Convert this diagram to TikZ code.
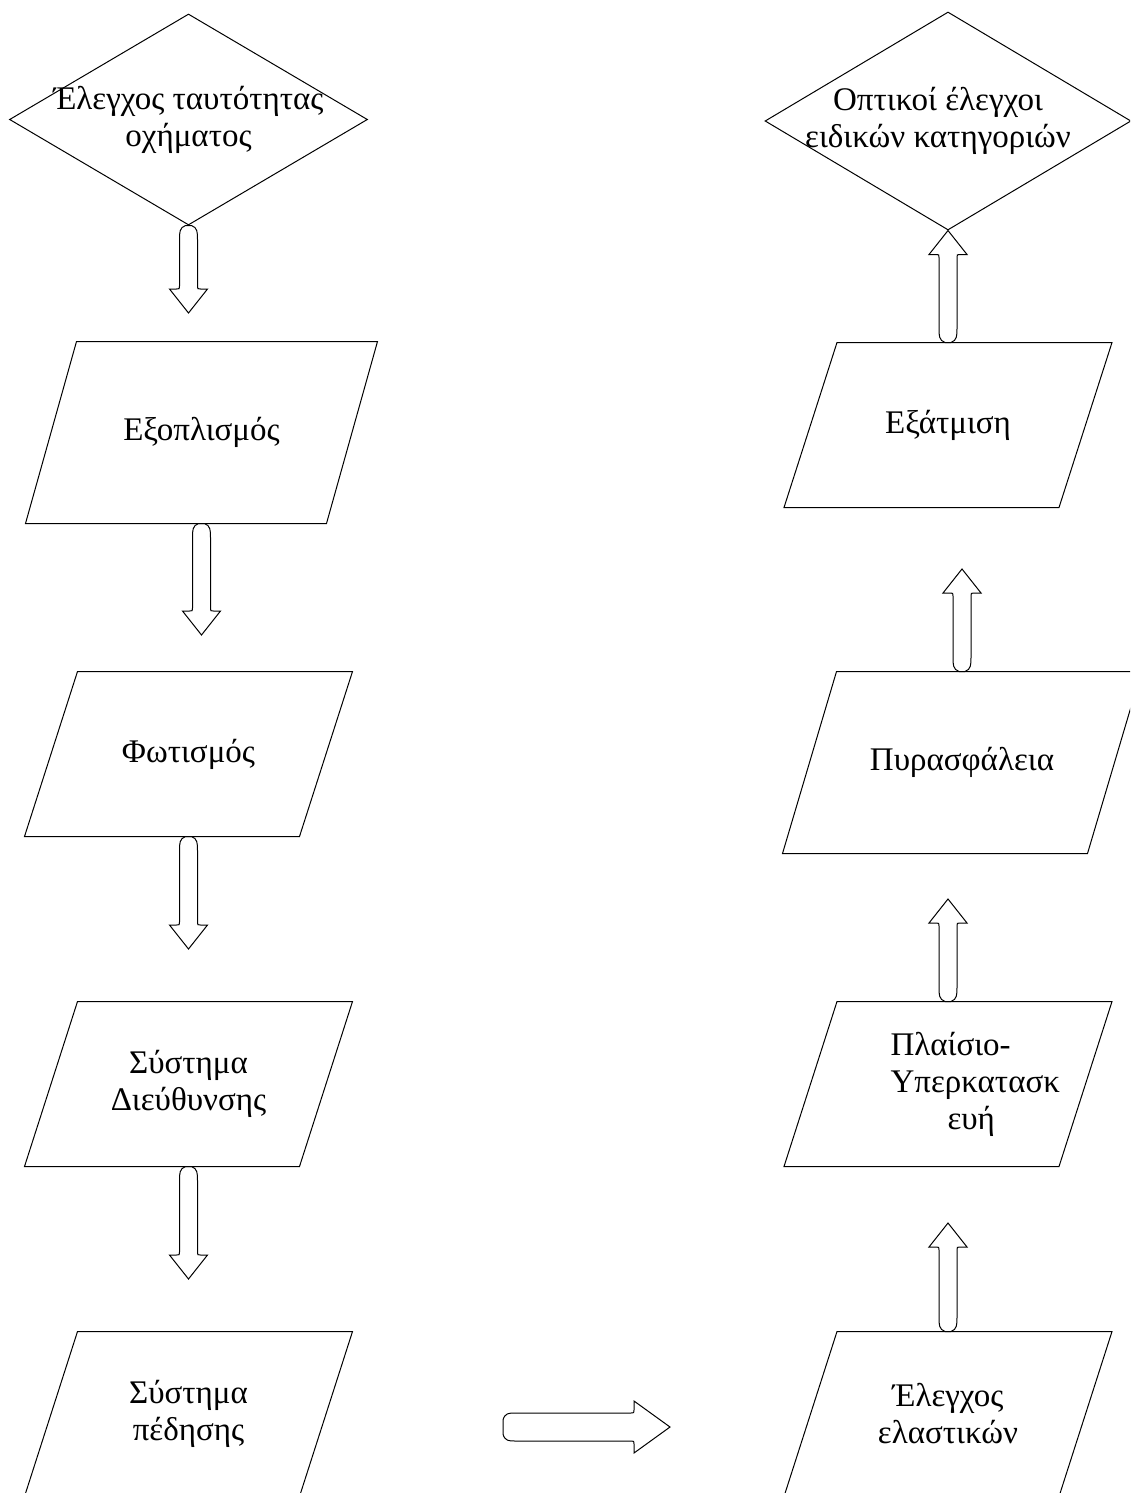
\documentclass[tikz,border=0pt]{standalone}
\usepackage{fontspec}
\setmainfont{Liberation Serif}
\usetikzlibrary{shapes.geometric,calc}
\tikzset{
  txt/.style={font=\fontsize{33}{37}\selectfont, align=center},
  dia/.style={draw, diamond, inner sep=0pt},
  lbl/.style={txt, inner sep=0pt},
  parabox/.style n args={2}{rectangle, inner sep=0pt, txt, minimum width=#1, minimum height=#2},
  pbsmall/.style={parabox={274}{164}},
  outline/.style={draw, line join=miter},
  barrow/.style n args={5}{to path={
    let \p1=(\tikztostart), \p2=(\tikztotarget),
        \n1={atan2(\y2-\y1,\x2-\x1)}, \n2={veclen(\x2-\x1,\y2-\y1)} in
    [shift={(\p1)}, rotate=\n1]
    (0,-#4) -- (0,#4) .. controls ({0.15*#5},#1) and ({0.5*#5},#1) .. (#5,#1)
    -- ({\n2-#3-3},#1) .. controls ({\n2-#3},#1) .. ({\n2-#3},{#1+3})
    -- ({\n2-#3},#2) -- (\n2,0) -- ({\n2-#3},-#2)
    -- ({\n2-#3},{-#1-3}) .. controls ({\n2-#3},-#1) .. ({\n2-#3-3},-#1)
    -- (#5,-#1) .. controls ({0.5*#5},-#1) and ({0.15*#5},-#1) .. (0,-#4) -- cycle}},
  varrow/.style={barrow={9}{19}{24}{3}{14}},
  harrow/.style={barrow={14}{26}{36}{7}{12}},
}
% outline of a parallelogram around a named box: #1 node, #2 half slant
\newcommand{\paraoutline}[2]{%
  \draw[outline] ([xshift=#2]#1.north west) -- ([xshift=#2]#1.north east)
    -- ([xshift=-#2]#1.south east) -- ([xshift=-#2]#1.south west) -- cycle;}
\begin{document}
\begin{tikzpicture}[x=1pt, y=-1pt, line width=1pt]
\useasboundingbox (0,0) rectangle (1130,1493);
\clip (0,0) rectangle (1130,1493);

% left column
\node[dia, minimum width=358, minimum height=211] (d1) at (188.5,119.5) {};
\node[lbl] (d1t) at (d1.center) {Έλεγχος ταυτότητας\\οχήματος};
\node[parabox={300}{181}] (p1) at (201.5,432.5) {Εξοπλισμός};
\node[pbsmall] (p2) at (188.5,754) {Φωτισμός};
\node[pbsmall] (p3) at (188.5,1084) {Σύστημα\\Διεύθυνσης};
\node[pbsmall] (p4) at (188.5,1414) {Σύστημα\\πέδησης};
\paraoutline{p1}{25.5}
\paraoutline{p2}{26.5}
\paraoutline{p3}{26.5}
\paraoutline{p4}{26.5}

% right column
\node[dia, minimum width=366, minimum height=218] (d2) at (948,121) {};
\node[lbl] (d2t) at ([xshift=-10]d2.center) {Οπτικοί έλεγχοι\\ειδικών κατηγοριών};
\node[pbsmall] (q1) at (948,425) {Εξάτμιση};
\node[parabox={304}{181}] (q2) at (962,762.5) {Πυρασφάλεια};
\node[pbsmall] (q3) at (948,1084) {};
\node[lbl, align=left, anchor=west] (q3t) at ([xshift=-58]q3.center) {Πλαίσιο-\\Υπερκατασκ\\\hspace*{57pt}ευή};
\node[pbsmall] (q4) at (948,1414) {Έλεγχος\\ελαστικών};
\paraoutline{q1}{26.5}
\paraoutline{q2}{27}
\paraoutline{q3}{26.5}
\paraoutline{q4}{26.5}

% free arrow ends
\coordinate (a1) at (188.5,313);
\coordinate (a2) at (201.5,635);
\coordinate (a3) at (188.5,949);
\coordinate (a4) at (188.5,1279);
\coordinate (b2) at (962,569);
\coordinate (b3) at (948,899);
\coordinate (b4) at (948,1223);
\coordinate (h1) at (503,1427);
\coordinate (h2) at (670,1427);

% block arrows
\draw[varrow] (d1.south) to (a1);
\draw[varrow] (p1.south) to (a2);
\draw[varrow] (p2.south) to (a3);
\draw[varrow] (p3.south) to (a4);
\draw[varrow] (q1.north) to (d2.south);
\draw[varrow] (q2.north) to (b2);
\draw[varrow] (q3.north) to (b3);
\draw[varrow] (q4.north) to (b4);
\draw[harrow] (h1) to (h2);
\end{tikzpicture}
\end{document}
